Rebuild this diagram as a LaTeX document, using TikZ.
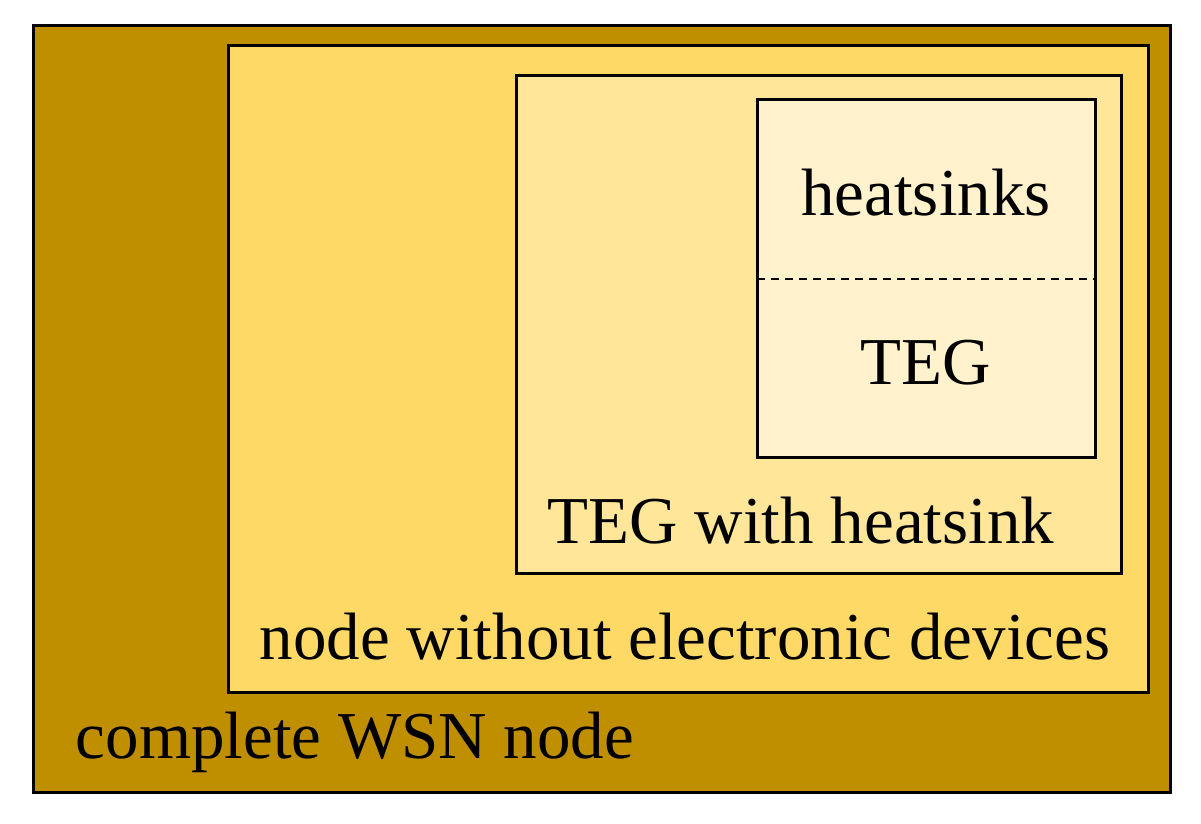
\documentclass[tikz,border=0pt]{standalone}
\usepackage{fontspec}
\setmainfont{Liberation Serif}
\definecolor{c1}{HTML}{BF8F00}
\definecolor{c2}{HTML}{FFD966}
\definecolor{c3}{HTML}{FFE699}
\definecolor{c4}{HTML}{FFF2CC}
\tikzset{box/.style={draw=black,line width=3pt},lbl/.style={font=\fontsize{67}{70}\selectfont,inner sep=0pt}}
\begin{document}
\begin{tikzpicture}[x=1pt,y=-1pt]
\useasboundingbox (0,0) rectangle (1201,823);
\fill[white] (0,0) rectangle (1201,823);
\draw[box,fill=c1] (33,25) rectangle (1170,792);
\draw[box,fill=c2] (228,45) rectangle (1148,692);
\draw[box,fill=c3] (516,75) rectangle (1121,573);
\draw[box,fill=c4] (757,99) rectangle (1095,457);
\coordinate (dl) at (757,279); \coordinate (dr) at (1095,279);
\draw[dashed,line width=2pt,dash pattern=on 8pt off 6pt] (dl) -- (dr);
\node[lbl] (hs) at (926,193) {heatsinks};
\node[lbl] (teg) at (926,363) {TEG};
\node[lbl] (twh) at (801,521) {TEG with heatsink};
\node[lbl] (nwe) at (685,637) {node without electronic devices};
\node[lbl] (wsn) at (355,742) {complete WSN node};
\end{tikzpicture}
\end{document}
